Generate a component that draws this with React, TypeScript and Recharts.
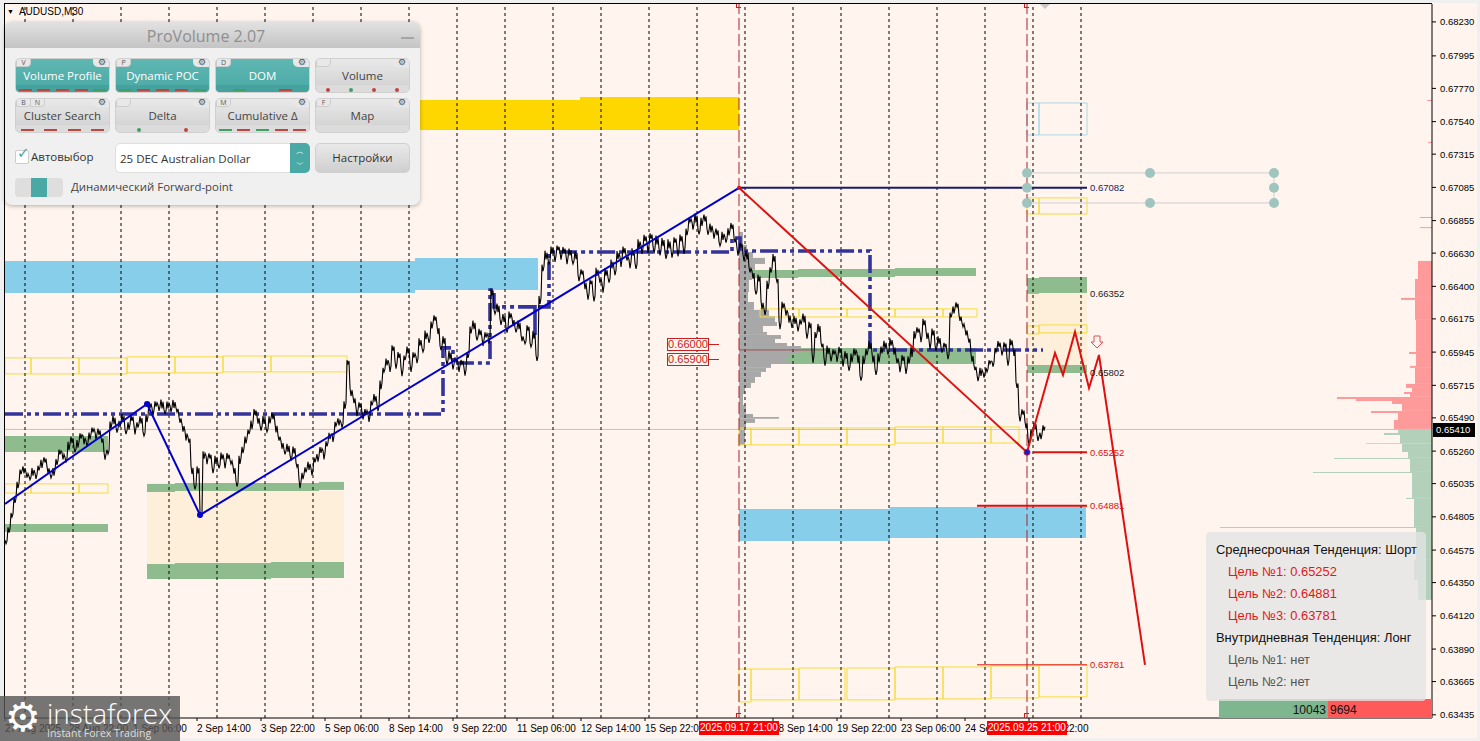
import React from "react";
import { ComposedChart, Line, XAxis, YAxis, ReferenceArea, ReferenceLine, ReferenceDot } from "recharts";

// Every price is in points: 65410 means 0.65410. The x axis counts M30 bars.
const priceDomain = [63413, 68354];
const barDomain = [0, 1427];
const priceTicks = [68230, 67995, 67770, 67540, 67315, 67085, 66855, 66630, 66400, 66175, 65945, 65715, 65490, 65260, 65035, 64805, 64575, 64350, 64120, 63890, 63665, 63435];
const timeTickBars = [0, 64, 128, 192, 256, 320, 384, 448, 512, 576, 640, 768, 832, 896, 960, 1024];
const timeTickLabels = ["27 Aug 2025", "28 Aug 22:00", "1 Sep 06:00", "2 Sep 14:00", "3 Sep 22:00", "5 Sep 06:00", "8 Sep 14:00", "9 Sep 22:00", "11 Sep 06:00", "12 Sep 14:00", "15 Sep 22:00", "18 Sep 14:00", "19 Sep 22:00", "23 Sep 06:00", "24 Sep 14:00", "26 Sep 22:00"];
const gridBars = [20, 68, 116, 164, 212, 260, 308, 356, 404, 452, 500, 548, 596, 644, 692, 740, 788, 836, 884, 932, 980, 1028, 1076];
const sessionBars = [734, 1022];
const lastPrice = 65410;

// close trace, one value every 3 bars
const closeStep = 3;
const closes = [
  64631, 64714, 64818, 64922, 65026, 65116, 65130, 65095, 65074, 65116, 65088, 65143, 65171, 65199, 65130, 65088, 65116, 65185, 65254, 65226, 65199, 65296, 65337, 65268, 65310, 65365, 65337, 65310, 65365, 65406, 65365, 65393, 65337, 65226,
  65254, 65441, 65476, 65406, 65448, 65489, 65393, 65434, 65489, 65406, 65441, 65476, 65379, 65489, 65579, 65531, 65586, 65559, 65586, 65531, 65579, 65552, 65586, 65545, 65476, 65420, 65365, 65337, 65130, 65012, 65130, 64825, 65233, 65199, 65226, 65130, 65199, 65157, 65226, 65171, 65226, 65185, 65130, 65033, 65199, 65268, 65337, 65393, 65441, 65531, 65476, 65420, 65476, 65406, 65476, 65503, 65420, 65351, 65303, 65254, 65282, 65213, 65268, 65164, 65033, 65088, 65130, 65157, 65116, 65199, 65213, 65268, 65233, 65310, 65365, 65351, 65448, 65462, 65441, 65579, 65877, 65669, 65614, 65531, 65579, 65503, 65531, 65490, 65593, 65628, 65559, 65718, 65822, 65877, 65836, 65974, 65856, 65925, 65808, 65905, 65960, 65836, 65925, 65891, 66015, 65960, 66064, 66029, 66133, 66181, 66098, 65974, 66029, 65877, 65925, 65849, 65891, 65836, 65877, 65808, 65925, 66098, 66133, 66043, 66084, 66015, 66064, 66029, 66361, 66223, 66251, 66154, 66181, 66098, 66202, 66154, 66098, 66133, 66043, 66015, 66112, 65995, 66064, 65905, 66306, 66528, 66617, 66569, 66652, 66597, 66666, 66611, 66652, 66583, 66638, 66569, 66617, 66458, 66500, 66410, 66334, 66431, 66320, 66500, 66444, 66389, 66500, 66444, 66555, 66500, 66617, 66569, 66652, 66597, 66555, 66638, 66541, 66694, 66652, 66735, 66666, 66749, 66652, 66721, 66638, 66707, 66611, 66694, 66625, 66721, 66638, 66735, 66652, 66777, 66860, 66818, 66873, 66777, 66846, 66873, 66777, 66804, 66756, 66777, 66694, 66749, 66721, 66777, 66818, 66721, 66638, 66687, 66597, 66617, 66514, 66479, 66361, 66458, 66271, 66223, 66410, 66514, 66597, 66444, 66133, 66271, 66223, 66181, 66133, 66168, 66112, 66154, 66181, 66064, 66133, 65905, 66064, 66112, 65995, 65877, 65960, 65905, 65946, 65905, 65960, 65877, 65925, 65836, 65905, 65946, 65905, 65766, 65891, 65946, 65995, 65905, 65808, 65905, 65960, 65995, 65946, 66015, 65960, 65891, 65836, 65905, 65822, 65891, 65946, 66064, 66098, 66043, 66154, 66064, 65995, 66084, 65974, 66029, 65960, 65995, 65919, 66202, 66237, 66271, 66181, 66133, 66084, 66029, 65905, 65836, 65766, 65808, 65787, 65822, 65877, 65863, 65960, 66001, 65946, 65995, 65877, 66015, 65946, 65718, 65490, 65531, 65441, 65323, 65393, 65434, 65351, 65365, 65420,
];
// half of the high-low spread seen around each close
const spreads = [
  12, 18, 14, 20, 22, 16, 24, 18, 12, 26, 20, 16, 28, 18, 22, 14, 26, 20, 16, 24,
  18, 28, 22, 14, 26, 18, 30, 20, 24, 16, 28, 22, 18, 26, 14, 24, 30, 18, 22, 28,
  16, 26, 20, 30, 18, 24, 14, 28, 22, 26, 18, 20, 30, 16, 24, 22, 28, 14, 20, 26,
  32, 18, 28, 16, 24, 12, 26, 30, 18, 22, 28, 16, 24, 30, 20, 14, 26, 18, 28, 22,
  24, 16, 30, 20, 26, 18, 28, 14, 24, 22, 30, 18, 26, 16, 28, 20, 24, 14, 30, 22,
  18, 28, 24, 16, 26, 20, 30, 18, 22, 28, 14, 24, 18, 26, 12, 28, 22, 30, 18, 24,
  20, 28, 16, 26, 22, 30, 14, 24, 28, 18, 26, 20, 30, 16, 24, 28, 18, 22, 26, 14,
  30, 20, 24, 18, 28, 16, 26, 22, 30, 24, 18, 28, 14, 26, 20, 24, 30, 16, 22, 28,
  18, 26, 24, 14, 30, 20, 28, 18, 24, 26, 16, 30, 22, 12, 18, 14, 26, 20, 28, 22,
  30, 18, 24, 28, 16, 26, 20, 30, 24, 14, 28, 22, 18, 30, 26, 16, 24, 28, 20, 32,
  26, 18, 30, 22, 28, 34, 24, 18, 30, 26, 20, 32, 28, 22, 34, 18, 26, 30, 24, 28,
  20, 32, 26, 18, 30, 24, 28, 22, 14, 26, 32, 18, 28, 24, 20, 30, 26, 22, 14, 28,
  18, 24, 20, 16, 26, 14, 22, 30, 18, 26, 16, 24, 30, 20, 28, 18, 26, 14, 30, 22,
  26, 32, 20, 28, 24, 18, 30, 26, 22, 34, 20, 28, 16, 26, 30, 24, 18, 28, 22, 32,
  26, 20, 30, 24, 34, 18, 28, 22, 26, 32, 20, 30, 24, 28, 18, 26, 32, 22, 30, 20,
  28, 24, 34, 26, 18, 30, 22, 28, 32, 24, 20, 26, 18, 14, 22, 16, 24, 18, 20, 14,
  24, 18, 26, 16, 22, 28, 18, 14, 12, 18, 14, 20, 24, 18, 26, 22, 28, 20, 24, 18,
  22, 26, 18, 24, 20, 22, 18, 20, 16, 18,
];

const waveBars = [0, 142, 195, 734];
const wavePrices = [64894, 65586, 64818, 67082];
const dropBars = [734, 1022];
const dropPrices = [67082, 65252];
const forecastBars = [1022, 1050, 1058, 1070, 1084, 1094, 1140];
const forecastPrices = [65252, 65939, 65787, 66085, 65697, 65925, 63781];
const pocBars = [0, 438, 438, 448, 448, 485, 485, 489, 489, 530, 530, 530, 544, 544, 727, 727, 735, 735, 865, 865, 1038];
const pocPrices = [65517, 65517, 65974, 65974, 65870, 65870, 66375, 66375, 66258, 66258, 66064, 66258, 66258, 66638, 66638, 66735, 66735, 66645, 66645, 65960, 65960];
const waveDotBars = [142, 195];
const waveDotPrices = [65586, 64818];
const sessionPocPrice = 65960;
const sessionPocEnd = 825;

const levelPrices = [67082, 65252, 64881, 63781];
const levelStarts = [734, 1028, 972, 972];
const levelEnd = 1082;
const levelColors = ["#191970", "#e01010", "#d81010", "#e01010"];
const levelTexts = ["0.67082", "0.65252", "0.64881", "0.63781"];
const blackLevelPrices = [66352, 65802];
const blackLevelTexts = ["0.66352", "0.65802"];

const goldZone = [[400, 575, 67690, 67482], [575, 734, 67711, 67482]];
const skyZone = [[0, 410, 66576, 66354], [410, 533, 66597, 66375], [734, 885, 64860, 64638], [885, 1081, 64874, 64659]];
const papayaZone = [[142, 339, 64984, 64482], [1022, 1082, 66354, 65856]];
const greenZone = [
  [0, 103, 65365, 65254], [0, 103, 64756, 64701],
  [142, 170, 65033, 64977], [170, 314, 65040, 64984], [314, 339, 65047, 64991],
  [142, 170, 64479, 64375], [170, 266, 64486, 64375], [266, 339, 64493, 64382],
  [734, 793, 66514, 66458], [793, 890, 66520, 66465], [890, 971, 66527, 66472],
  [734, 971, 65974, 65863],
  [1022, 1034, 66458, 66348], [1034, 1082, 66465, 66354], [1022, 1082, 65856, 65801],
];
const yellowBoxes = [
  [0, 26, 65905, 65794], [26, 74, 65905, 65794], [74, 122, 65905, 65794], [122, 170, 65912, 65801], [170, 218, 65912, 65801], [218, 266, 65918, 65808], [266, 342, 65918, 65808],
  [0, 26, 65033, 64970], [26, 74, 65033, 64970], [74, 103, 65033, 64970],
  [755, 794, 66244, 66188], [794, 842, 66244, 66188], [842, 890, 66244, 66188], [890, 938, 66244, 66188], [938, 972, 66244, 66188],
  [734, 746, 65420, 65303], [746, 794, 65420, 65303], [794, 842, 65420, 65303], [842, 890, 65420, 65303], [890, 938, 65427, 65316], [938, 986, 65427, 65316], [986, 1014, 65427, 65316],
  [734, 746, 63752, 63524], [746, 794, 63752, 63538], [794, 840, 63759, 63538], [842, 890, 63759, 63538], [890, 938, 63766, 63545], [938, 986, 63766, 63545], [986, 1034, 63773, 63552], [1034, 1082, 63780, 63559],
  [1022, 1034, 67012, 66901], [1034, 1082, 67012, 66901], [1022, 1034, 66126, 66071], [1034, 1082, 66133, 66078],
];
const paleBlueBoxes = [[1022, 1034, 67669, 67448], [1034, 1082, 67669, 67448]];

const gearRowHigh = 67185;
const gearRowMid = 67082;
const gearRowLow = 66977;
const gearBars = [1022, 1145, 1269];

const sessionProfileLevels = [66777, 66687, 66638, 66597, 66555, 66514, 66444, 66361, 66292, 66237, 66195, 66154, 66126, 66084, 66064, 66036, 66008, 65988, 65967, 65953, 65932, 65905, 65884, 65863, 65836, 65808, 65773, 65732, 65697, 65655, 65579, 65517, 65496, 65483, 65455, 65420, 65303];
const sessionProfileVolumes = [4, 8, 14, 26, 16, 13, 10, 9, 15, 30, 36, 38, 24, 28, 42, 36, 48, 62, 72, 60, 50, 46, 52, 32, 27, 22, 16, 12, 6, 4, 7, 14, 40, 16, 7, 6];
const sellLevels = [66576, 66451, 66320, 66306, 66168, 65946, 65932, 65849, 65836, 65725, 65697, 65669, 65655, 65635, 65621, 65607, 65586, 65538, 65524, 65476, 65410];
const sellVolumes = [14, 17, 31, 17, 16, 23, 16, 22, 17, 26, 20, 28, 22, 95, 76, 40, 30, 61, 34, 38];
const buyLevels = [65410, 65386, 65372, 65316, 65310, 65254, 65213, 65206, 65116, 65109, 64936, 64929, 64735, 64728, 64507, 64368, 64230];
const buyVolumes = [34, 48, 32, 66, 30, 24, 98, 22, 119, 20, 26, 18, 212, 16, 18, 14];
const sellSpikePrices = [67690, 67400, 66880, 66810];
const sellSpikeVolumes = [5, 4, 12, 12];

const deltaBuy = 10043;
const deltaSell = 9694;

const zip = (xs: number[], ys: number[]) => xs.map((x, i) => ({ x, y: ys[i] }));
const closeData = closes.flatMap((y, i) => {
  const s = spreads[i] ?? 18;
  return [{ x: i * closeStep, y: y + s }, { x: i * closeStep + 1, y: y - s }, { x: i * closeStep + 2, y: y + s / 2 }];
});
const endBar = barDomain[1];
const CHART = "'Liberation Sans', Arial, sans-serif";
const UI = "'Open Sans', 'Noto Sans', sans-serif";

const PriceTick = (p: any) => (
  <text x={p.x + 2} y={p.y + 3.5} fontSize={9.5} fontFamily={CHART} fill="#000">{(p.payload.value / 100000).toFixed(5)}</text>
);
const TimeTick = (p: any) => {
  const i = timeTickBars.indexOf(p.payload.value);
  return <text x={p.x} y={p.y + 9} fontSize={10} fontFamily={CHART} fill="#000">{timeTickLabels[i]}</text>;
};
const Arrow = (p: any) => (
  <path transform={`translate(${p.cx},${p.cy})`} d="M-3,-6 H3 V0 H6 L0,6 L-6,0 H-3 Z" fill="#fff5ee" stroke="#e05050" strokeWidth={1} />
);

const box = (b: number[], key: string, rest: any) => (
  <ReferenceArea key={key} x1={b[0]} x2={b[1]} y1={b[2]} y2={b[3]} ifOverflow="hidden" {...rest} />
);
const rows = (levels: number[], volumes: number[], color: string, key: string, fromLeft?: number) =>
  volumes.map((v, i) => (
    <ReferenceArea key={key + i} x1={fromLeft !== undefined ? fromLeft : endBar - v} x2={fromLeft !== undefined ? fromLeft + v : endBar} y1={levels[i]} y2={levels[i + 1]} fill={color} fillOpacity={1} stroke="none" />
  ));

const abs = (left: number, top: number, width: number, height: number, extra: any = {}) => ({ position: "absolute", left, top, width, height, boxSizing: "border-box", ...extra });

const Btn = ({ left, top, label, on, keys, marks, dots }: any) => (
  <div style={abs(left, top, 95, 35, { borderRadius: 5, background: on ? "linear-gradient(#5fb7b2,#4aa9a5)" : "linear-gradient(#e9e9e9,#cfcfcf)", border: "1px solid #d0d0d0", fontFamily: UI, overflow: "hidden" })}>
    {keys.map((k: string, i: number) => (
      <div key={k} style={abs(i * 14, -1, 15, 9, { background: "#e8e8e8", borderRadius: "0 0 4px 0", border: "1px solid #ccc", fontSize: 7, lineHeight: "8px", textAlign: "center", color: "#555" })}>{k}</div>
    ))}
    <div style={abs(77, -1, 18, 9, { background: "#e8e8e8", borderRadius: "0 0 0 5px", fontSize: 9, lineHeight: "9px", textAlign: "center", color: "#555", fontFamily: "DejaVu Sans" })}>⚙</div>
    <div style={abs(0, 8, 93, 17, { textAlign: "center", fontSize: 11.5, lineHeight: "17px", color: on ? "#fff" : "#444" })}>{label}</div>
    <div style={abs(0, 26, 93, 9, { display: "flex", justifyContent: "space-around", alignItems: "center", background: on ? "#46a29e" : "#dcdcdc" })}>
      {(marks || []).map((c: string, i: number) => <span key={i} style={{ width: 13, height: 2, background: c }} />)}
      {(dots || []).map((c: string, i: number) => <span key={i} style={{ width: 4, height: 4, borderRadius: 2, background: c }} />)}
    </div>
  </div>
);

const R = "#c0453c";
const G = "#3f9f64";

const ProVolume = () => (
  <div style={abs(5, 22, 415, 183, { background: "#f0f0f0", borderRadius: 7, boxShadow: "0 1px 4px rgba(0,0,0,.3)", fontFamily: UI })}>
    <div style={abs(0, 0, 415, 26, { background: "linear-gradient(#e2e2e2,#c4c4c4)", borderRadius: "7px 7px 0 0", textAlign: "center", fontSize: 16, lineHeight: "28px", color: "#8f8f8f", paddingRight: 13 })}>ProVolume 2.07</div>
    <div style={abs(396, 15, 13, 2, { background: "#a5a5a5" })} />
    <Btn left={10} top={36} label="Volume Profile" on keys={["V"]} marks={[R, R, R, R, G]} />
    <Btn left={110} top={36} label="Dynamic POC" on keys={["P"]} marks={[G, R, R, R, G]} />
    <Btn left={210} top={36} label="DOM" on keys={["D"]} marks={[G, R]} />
    <Btn left={310} top={36} label="Volume" keys={["\u00a0"]} dots={[R, G, R, R]} />
    <Btn left={10} top={76} label="Cluster Search" keys={["B", "N"]} marks={[R, R, R, R]} />
    <Btn left={110} top={76} label="Delta" keys={["\u00a0"]} dots={[G, R]} />
    <Btn left={210} top={76} label="Cumulative Δ" keys={["M"]} marks={[G, R, G, R, R]} />
    <Btn left={310} top={76} label="Map" keys={["F"]} />
    <div style={abs(10, 128, 14, 14, { background: "#fff", border: "1px solid #ccc", borderRadius: 2 })} />
    <div style={abs(12, 122, 14, 20, { color: "#4aa9a5", fontSize: 15, fontFamily: "DejaVu Sans" })}>✓</div>
    <div style={abs(26, 127, 80, 16, { fontSize: 11.5, color: "#333" })}>Автовыбор</div>
    <div style={abs(110, 121, 195, 30, { background: "#fff", borderRadius: 5, border: "1px solid #ddd", fontSize: 11.5, lineHeight: "29px", paddingLeft: 4, color: "#333" })}>25 DEC Australian Dollar</div>
    <div style={abs(285, 121, 20, 30, { background: "#4aa9a5", borderRadius: "0 5px 5px 0", color: "#fff", fontSize: 8, lineHeight: "13px", textAlign: "center", paddingTop: 2, fontFamily: "DejaVu Sans" })}>︿<br />﹀</div>
    <div style={abs(310, 121, 95, 30, { background: "linear-gradient(#e9e9e9,#cfcfcf)", borderRadius: 5, border: "1px solid #d0d0d0", fontSize: 11.5, lineHeight: "28px", textAlign: "center", color: "#333" })}>Настройки</div>
    <div style={abs(10, 156, 48, 19, { background: "#dedede", borderRadius: 4 })} />
    <div style={abs(26, 156, 16, 19, { background: "#4aa9a5" })} />
    <div style={abs(66, 156, 220, 18, { fontSize: 11.4, color: "#444", lineHeight: "18px" })}>Динамический Forward-point</div>
  </div>
);

const targets: [string, string, number, number][] = [
  ["Среднесрочная Тенденция: Шорт", "#111", 10, 18],
  ["Цель №1: 0.65252", "#e01818", 22, 40],
  ["Цель №2: 0.64881", "#e01818", 22, 62],
  ["Цель №3: 0.63781", "#e01818", 22, 84],
  ["Внутридневная Тенденция: Лонг", "#111", 10, 106],
  ["Цель №1: нет", "#555", 22, 128],
  ["Цель №2: нет", "#555", 22, 150],
];

const TrendPanel = () => (
  <>
    <div style={abs(1219, 699, 109, 19, { background: "#7db68f", textAlign: "right", paddingRight: 2, fontFamily: CHART, fontSize: 12, lineHeight: "22px", color: "#111" })}>{deltaBuy}</div>
    <div style={abs(1328, 699, 104, 19, { background: "#ff5a5a", paddingLeft: 2, fontFamily: CHART, fontSize: 12, lineHeight: "22px", color: "#111" })}>{deltaSell}</div>
    <div style={abs(1206, 532, 220, 169, { background: "rgba(228,228,228,.78)", borderRadius: 4 })}>
      {targets.map(([t, c, l, tp]) => (
        <div key={t + tp} style={{ position: "absolute", left: l, top: tp - 8, fontFamily: CHART, fontSize: 12.9, lineHeight: "16px", color: c, whiteSpace: "nowrap" }}>{t}</div>
      ))}
    </div>
  </>
);

const Logo = () => (
  <div style={abs(0, 696, 180, 45, { background: "rgba(85,85,85,.8)", color: "#fff", fontFamily: UI })}>
    <div style={abs(5, -1, 40, 45, { fontFamily: "DejaVu Sans", fontSize: 40, lineHeight: "44px" })}>⚙</div>
    <div style={abs(47, 1, 133, 32, { fontSize: 28, lineHeight: "32px", fontWeight: 300 })}>instaforex</div>
    <div style={abs(47, 30, 133, 14, { fontSize: 10.5, lineHeight: "14px", color: "#ddd" })}>Instant Forex Trading</div>
  </div>
);

const Tag = ({ left, top, text }: any) => (
  <>
    <div style={abs(left, top, 42, 13, { border: "1px solid #c82020", color: "#c82020", fontFamily: CHART, fontSize: 11, lineHeight: "11px", textAlign: "center", background: "#fff5ee" })}>{text}</div>
    <div style={abs(left + 42, top + 6, 10, 1, { background: "#c82020" })} />
  </>
);

const TimeFlag = ({ left, text }: any) => (
  <div style={abs(left, 721, 80, 14, { background: "#f00", color: "#fff", fontFamily: CHART, fontSize: 10, lineHeight: "14px", textAlign: "center", whiteSpace: "nowrap" })}>{text}</div>
);

export default function App() {
  return (
    <div style={abs(0, 0, 1480, 741, { background: "#f0f0f0", overflow: "hidden" })}>
      <div style={abs(4, 3, 1473, 735, { background: "#fff5ee" })} />
      <div style={abs(0, 0, 1480, 741)}>
        <ComposedChart width={1480} height={741} margin={{ top: 4, right: 0, bottom: 0, left: 5 }}>
          <XAxis type="number" dataKey="x" domain={barDomain} ticks={timeTickBars} tick={<TimeTick />} interval={0} height={23} tickSize={3} stroke="#000" allowDataOverflow />
          <YAxis type="number" dataKey="y" orientation="right" domain={priceDomain} ticks={priceTicks} tick={<PriceTick />} interval={0} width={48} tickSize={4} stroke="#000" allowDataOverflow />

          {papayaZone.map((b, i) => box(b, "pap" + i, { fill: "#fdefd9", fillOpacity: 1, stroke: "none" }))}
          {goldZone.map((b, i) => box(b, "gold" + i, { fill: "#ffd700", fillOpacity: 1, stroke: "none" }))}
          {skyZone.map((b, i) => box(b, "sky" + i, { fill: "#87ceeb", fillOpacity: 1, stroke: "none" }))}
          {greenZone.map((b, i) => box(b, "grn" + i, { fill: "#8fbc8f", fillOpacity: 1, stroke: "none" }))}
          {rows(sellLevels, sellVolumes, "#ff9a9a", "sell")}
          {rows(buyLevels, buyVolumes, "#b3d0ba", "buy")}
          {sellSpikePrices.map((p, i) => (
            <ReferenceArea key={"sp" + i} x1={endBar - sellSpikeVolumes[i]} x2={endBar} y1={p} y2={p - 7} fill="#ff9a9a" fillOpacity={1} stroke="none" />
          ))}
          {rows(sessionProfileLevels, sessionProfileVolumes, "#a8a8a8", "ses", sessionBars[0])}

          <ReferenceLine y={lastPrice} stroke="#c4c4c4" strokeWidth={1} />
          {gridBars.map((b) => <ReferenceLine key={b} x={b} stroke="#000" strokeWidth={1} strokeDasharray="3 3" />)}
          {sessionBars.map((b) => <ReferenceLine key={b} x={b} stroke="#a82028" strokeWidth={1} strokeDasharray="12 4" />)}
          {yellowBoxes.map((b, i) => box(b, "yb" + i, { fill: "none", stroke: "#f4dc3c", strokeWidth: 1 }))}
          {paleBlueBoxes.map((b, i) => box(b, "pb" + i, { fill: "none", stroke: "#a8d8e6", strokeWidth: 1 }))}

          <Line data={zip([gearBars[0], gearBars[2]], [gearRowHigh, gearRowHigh])} dataKey="y" stroke="#cfcfcf" strokeWidth={1} dot={false} isAnimationActive={false} />
          <Line data={zip([gearBars[0], gearBars[2]], [gearRowLow, gearRowLow])} dataKey="y" stroke="#cfcfcf" strokeWidth={1} dot={false} isAnimationActive={false} />
          <Line data={zip([gearBars[2], gearBars[2]], [gearRowHigh, gearRowLow])} dataKey="y" stroke="#cfcfcf" strokeWidth={1} dot={false} isAnimationActive={false} />

          <Line data={zip([sessionBars[0], sessionPocEnd], [sessionPocPrice, sessionPocPrice])} dataKey="y" stroke="#a05050" strokeWidth={1} dot={false} isAnimationActive={false} />
          <Line data={zip(pocBars, pocPrices)} dataKey="y" stroke="#33339c" strokeWidth={3.6} strokeDasharray="18 4 4 4 4 4" dot={false} isAnimationActive={false} />
          <Line data={closeData} dataKey="y" stroke="#000" strokeWidth={1.1} dot={false} isAnimationActive={false} />
          <Line data={zip(waveBars, wavePrices)} dataKey="y" stroke="#0000cd" strokeWidth={2} dot={false} isAnimationActive={false} />
          <Line data={zip(dropBars, dropPrices)} dataKey="y" stroke="#e01010" strokeWidth={2} dot={false} isAnimationActive={false} />
          {levelPrices.map((p, i) => (
            <Line key={p} data={zip([levelStarts[i], levelEnd], [p, p])} dataKey="y" stroke={levelColors[i]} strokeWidth={i === 3 ? 1 : 2} dot={false} isAnimationActive={false} />
          ))}
          <Line data={zip(forecastBars, forecastPrices)} dataKey="y" stroke="#e01010" strokeWidth={2} dot={false} isAnimationActive={false} />

          {levelPrices.map((p, i) => (
            <ReferenceDot key={"lbl" + p} x={levelEnd} y={p} r={0} stroke="none" fill="none" label={{ value: levelTexts[i], position: "right", offset: 3, fill: levelColors[i], fontSize: 9.5, fontFamily: CHART }} />
          ))}
          {blackLevelPrices.map((p, i) => (
            <ReferenceDot key={"blk" + p} x={levelEnd} y={p} r={0} stroke="none" fill="none" label={{ value: blackLevelTexts[i], position: "right", offset: 3, fill: "#222", fontSize: 9.5, fontFamily: CHART }} />
          ))}
          {waveDotBars.map((b, i) => <ReferenceDot key={"wd" + b} x={b} y={waveDotPrices[i]} r={3} fill="#0000cd" stroke="none" />)}
          <ReferenceDot x={dropBars[0]} y={dropPrices[0]} r={2} fill="#e01010" stroke="none" />
          <ReferenceDot x={dropBars[1]} y={dropPrices[1]} r={3} fill="#1a1ad0" stroke="#c02030" />
          <ReferenceDot x={1092} y={66015} r={1} shape={<Arrow />} />
          {[gearRowHigh, gearRowLow].flatMap((p) => gearBars.map((b) => (
            <ReferenceDot key={"g" + p + b} x={b} y={p} r={5} fill="#9fc5be" stroke="none" />
          )))}
          {[gearBars[0], gearBars[2]].map((b) => <ReferenceDot key={"gm" + b} x={b} y={gearRowMid} r={5} fill="#9fc5be" stroke="none" />)}
        </ComposedChart>
      </div>

      <div style={abs(4, 3, 1428, 1, { background: "#000" })} />
      <div style={abs(4, 3, 1, 715, { background: "#000" })} />
      <div style={abs(7, 6, 100, 12, { fontFamily: CHART, fontSize: 10, lineHeight: "12px", color: "#000" })}><span style={{ fontSize: 7, marginRight: 5, verticalAlign: 1 }}>▼</span>AUDUSD,M30</div>
      <div style={abs(736, 713, 5, 5, { borderTop: "1px solid #c02020", borderLeft: "1px solid #c02020" })} />
      <div style={abs(1024, 713, 5, 5, { borderTop: "1px solid #c02020", borderLeft: "1px solid #c02020" })} />
      <div style={abs(736, 4, 5, 4, { borderBottom: "1px solid #c02020", borderLeft: "1px solid #c02020" })} />
      <div style={abs(1024, 4, 5, 4, { borderBottom: "1px solid #c02020", borderLeft: "1px solid #c02020" })} />
      <div style={abs(1040, 4, 10, 5, { background: "#c8c8c8", clipPath: "polygon(0 0,100% 0,50% 100%)" })} />
      <Tag left={667} top={338} text="0.66000" />
      <Tag left={667} top={353} text="0.65900" />
      <TimeFlag left={699} text="2025.09.17 21:00" />
      <TimeFlag left={987} text="2025.09.25 21:00" />
      <div style={abs(1433, 423, 42, 14, { background: "#000", color: "#fff", fontFamily: CHART, fontSize: 9.5, lineHeight: "14px", paddingLeft: 3 })}>{(lastPrice / 100000).toFixed(5)}</div>
      <TrendPanel />
      <ProVolume />
      <Logo />
    </div>
  );
}
